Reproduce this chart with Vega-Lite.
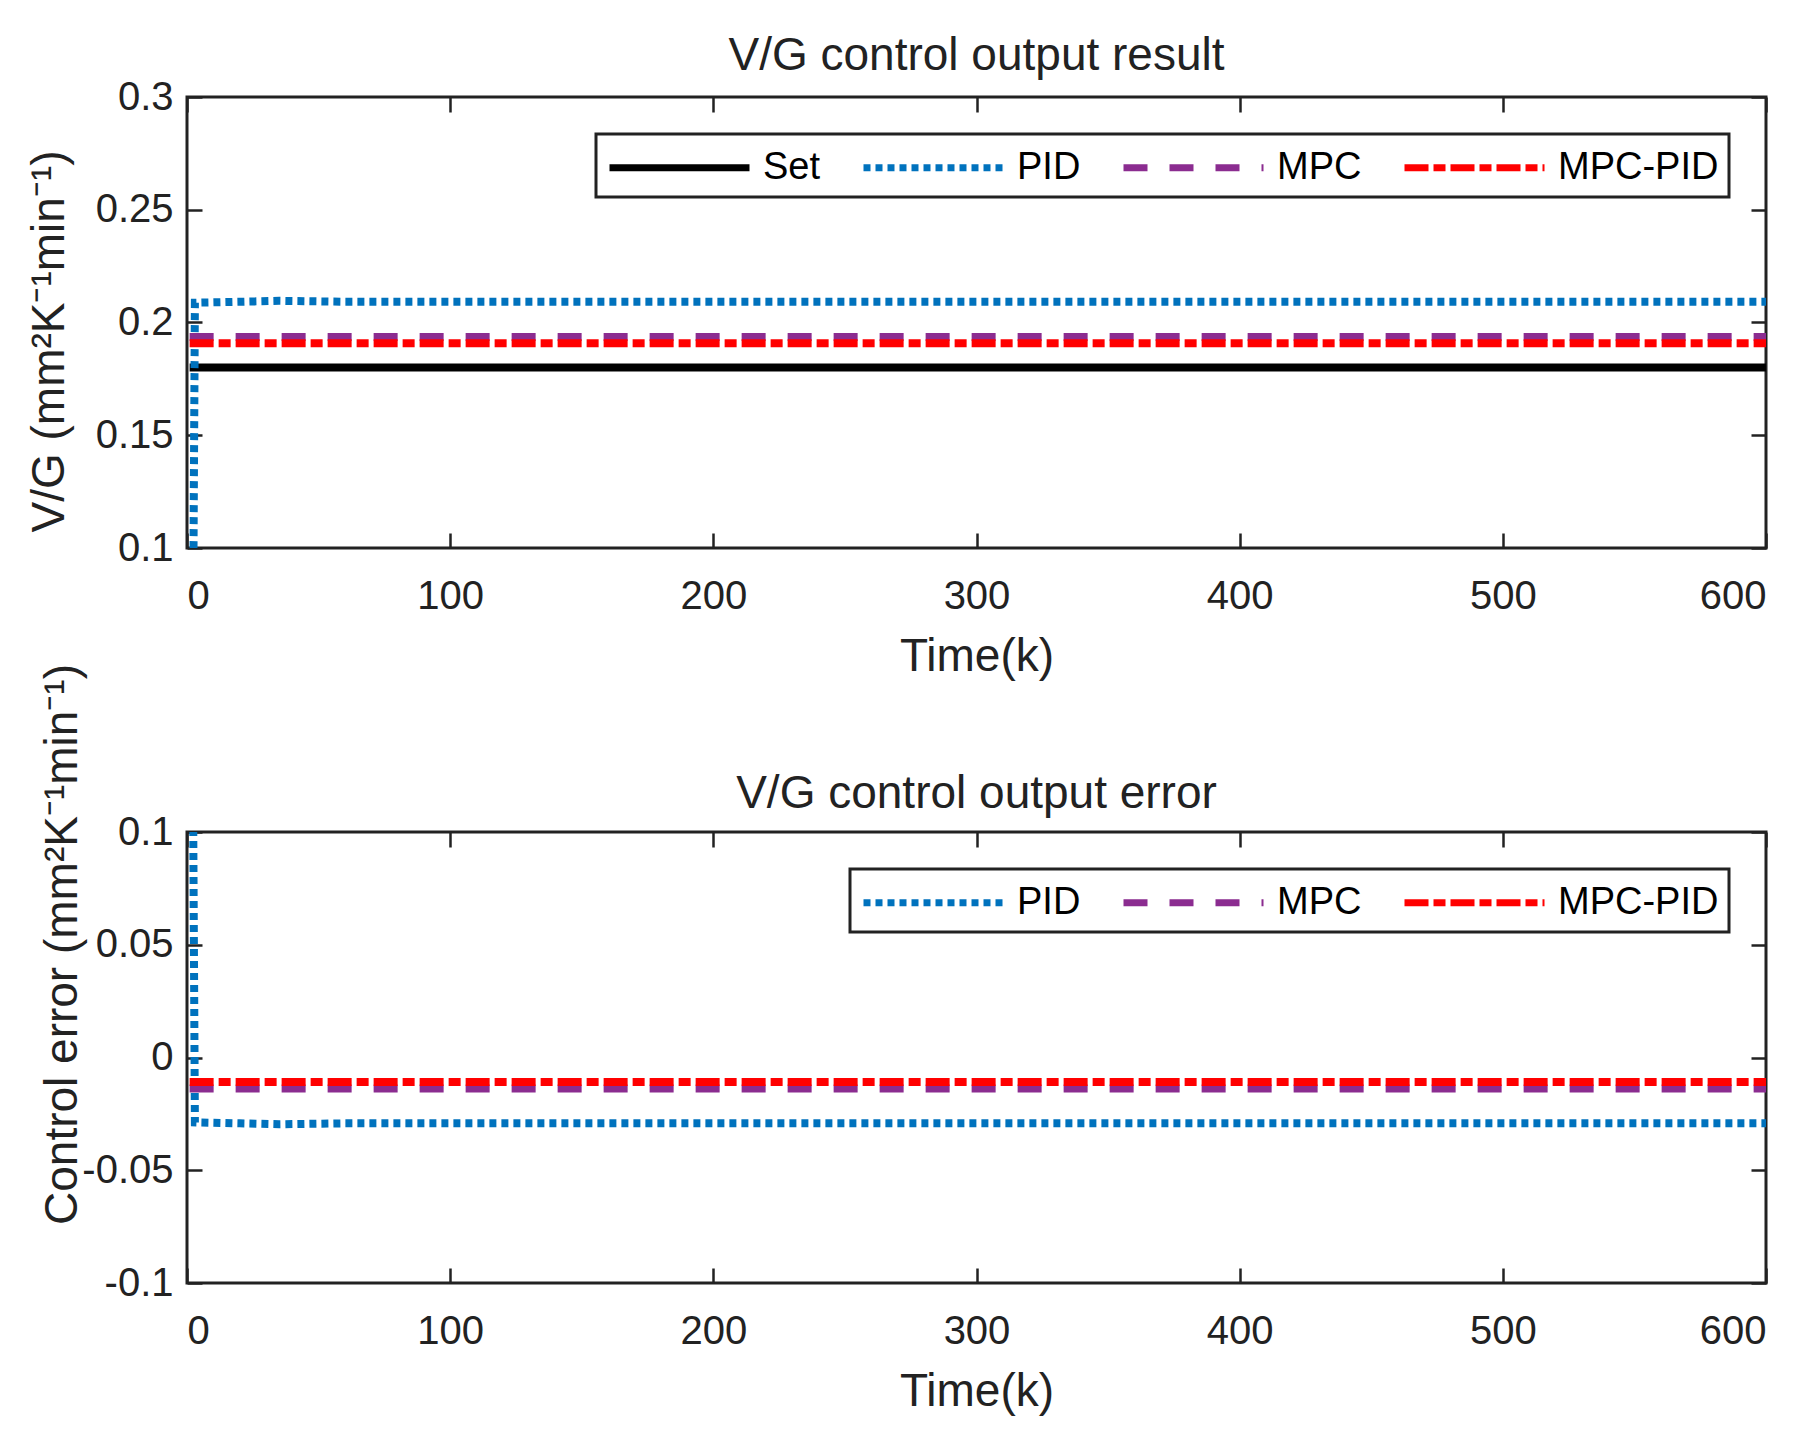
{
  "$schema": "https://vega.github.io/schema/vega-lite/v6.json",
  "background": "white",
  "padding": {"left": 24, "top": 31, "right": 10, "bottom": 10},
  "config": {
    "font": "Liberation Sans",
    "view": {"stroke": "#222", "strokeWidth": 3},
    "axis": {
      "domain": false,
      "grid": false,
      "tickColor": "#222",
      "tickWidth": 2.5,
      "tickSize": -15,
      "labelFont": "Liberation Sans",
      "labelFontSize": 40,
      "labelColor": "#222",
      "titleFont": "Liberation Sans",
      "titleFontSize": 46,
      "titleFontWeight": "normal",
      "titleColor": "#222"
    },
    "title": {"font": "Liberation Sans", "fontSize": 46, "fontWeight": "normal", "color": "#222", "offset": -3, "frame": "group"},
    "legend": {
      "orient": "top-right",
      "direction": "horizontal",
      "columns": 4,
      "offset": 37,
      "strokeColor": "#222",
      "strokeWidth": 3,
      "fillColor": "white",
      "padding": 10,
      "symbolType": "M-1,0H6",
      "symbolSize": 1600,
      "symbolStrokeWidth": 7,
      "labelOffset": 110,
      "labelFont": "Liberation Sans",
      "labelFontSize": 38,
      "labelColor": "#000",
      "labelLimit": 400,
      "columnPadding": 28,
      "title": null
    }
  },
  "datasets": {
    "top": [
      {"k": 1, "value": 0.18, "series": "Set"},
      {"k": 600, "value": 0.18, "series": "Set"},
      {"k": 1, "value": 0.0, "series": "PID"},
      {"k": 2, "value": 0.0, "series": "PID"},
      {"k": 3, "value": 0.2088, "series": "PID"},
      {"k": 20, "value": 0.2092, "series": "PID"},
      {"k": 35, "value": 0.2096, "series": "PID"},
      {"k": 60, "value": 0.2092, "series": "PID"},
      {"k": 600, "value": 0.2092, "series": "PID"},
      {"k": 1, "value": 0.1936, "series": "MPC"},
      {"k": 600, "value": 0.1936, "series": "MPC"},
      {"k": 1, "value": 0.1908, "series": "MPC-PID"},
      {"k": 600, "value": 0.1908, "series": "MPC-PID"}
    ],
    "bottom": [
      {"k": 1, "value": 0.18, "series": "PID"},
      {"k": 2, "value": 0.18, "series": "PID"},
      {"k": 3, "value": -0.0288, "series": "PID"},
      {"k": 20, "value": -0.0292, "series": "PID"},
      {"k": 35, "value": -0.0296, "series": "PID"},
      {"k": 60, "value": -0.0292, "series": "PID"},
      {"k": 600, "value": -0.0292, "series": "PID"},
      {"k": 1, "value": -0.0137, "series": "MPC"},
      {"k": 600, "value": -0.0137, "series": "MPC"},
      {"k": 1, "value": -0.0109, "series": "MPC-PID"},
      {"k": 600, "value": -0.0109, "series": "MPC-PID"}
    ]
  },
  "bounds": "flush",
  "spacing": 284,
  "resolve": {"scale": {"color": "independent", "strokeDash": "independent", "x": "independent", "y": "independent"}},
  "vconcat": [
    {
      "width": 1579,
      "height": 451,
      "title": "V/G control output result",
      "data": {"name": "top"},
      "layer": [
        {
          "mark": {"type": "line", "clip": true, "strokeWidth": 8},
          "encoding": {
            "x": {"field": "k", "type": "quantitative", "scale": {"domain": [0, 600], "nice": false},
                  "axis": {"orient": "bottom", "values": [0, 100, 200, 300, 400, 500, 600], "title": "Time(k)", "labelPadding": 43, "titlePadding": 18}},
            "y": {"field": "value", "type": "quantitative", "scale": {"domain": [0.1, 0.3], "nice": false, "zero": false},
                  "axis": {"orient": "left", "values": [0.1, 0.15, 0.2, 0.25, 0.3], "labelExpr": "'' + datum.value", "labelPadding": 29,
                           "title": "V/G (mm²K⁻¹min⁻¹)", "titlePadding": 22, "titleY": 244, "titleAlign": "center"}},
            "color": {"field": "series", "type": "nominal",
                      "scale": {"domain": ["Set", "PID", "MPC", "MPC-PID"], "range": ["#000000", "#0072BD", "#8B2C90", "#FF0000"]},
                      "legend": {"offset": 37}},
            "strokeDash": {"field": "series", "type": "nominal",
                      "scale": {"domain": ["Set", "PID", "MPC", "MPC-PID"], "range": [[1, 0], [7, 5], [24, 22], [24, 5, 12, 5]]},
                      "legend": {"offset": 37}}
          }
        },
        {
          "mark": {"type": "rule", "opacity": 0},
          "encoding": {
            "x": {"field": "k", "type": "quantitative", "axis": {"orient": "top", "values": [0, 100, 200, 300, 400, 500, 600], "labels": false, "title": null}},
            "y": {"field": "value", "type": "quantitative", "axis": {"orient": "right", "values": [0.1, 0.15, 0.2, 0.25, 0.3], "labels": false, "title": null}}
          }
        }
      ],
      "resolve": {"axis": {"x": "independent", "y": "independent"}}
    },
    {
      "width": 1579,
      "height": 451,
      "title": {"text": "V/G control output error", "dy": 163},
      "data": {"name": "bottom"},
      "layer": [
        {
          "mark": {"type": "line", "clip": true, "strokeWidth": 8},
          "encoding": {
            "x": {"field": "k", "type": "quantitative", "scale": {"domain": [0, 600], "nice": false},
                  "axis": {"orient": "bottom", "values": [0, 100, 200, 300, 400, 500, 600], "title": "Time(k)", "labelPadding": 43, "titlePadding": 18}},
            "y": {"field": "value", "type": "quantitative", "scale": {"domain": [-0.1, 0.1], "nice": false, "zero": false},
                  "axis": {"orient": "left", "values": [-0.1, -0.05, 0, 0.05, 0.1], "labelExpr": "'' + datum.value", "labelPadding": 29,
                           "title": "Control error (mm²K⁻¹min⁻¹)", "titlePadding": -5, "titleY": 112, "titleAlign": "center"}},
            "color": {"field": "series", "type": "nominal",
                      "scale": {"domain": ["PID", "MPC", "MPC-PID"], "range": ["#0072BD", "#8B2C90", "#FF0000"]},
                      "legend": {"offset": 37, "columns": 3}},
            "strokeDash": {"field": "series", "type": "nominal",
                      "scale": {"domain": ["PID", "MPC", "MPC-PID"], "range": [[7, 5], [24, 22], [24, 5, 12, 5]]},
                      "legend": {"offset": 37, "columns": 3}}
          }
        },
        {
          "mark": {"type": "rule", "opacity": 0},
          "encoding": {
            "x": {"field": "k", "type": "quantitative", "axis": {"orient": "top", "values": [0, 100, 200, 300, 400, 500, 600], "labels": false, "title": null}},
            "y": {"field": "value", "type": "quantitative", "axis": {"orient": "right", "values": [-0.1, -0.05, 0, 0.05, 0.1], "labels": false, "title": null}}
          }
        }
      ],
      "resolve": {"axis": {"x": "independent", "y": "independent"}}
    }
  ]
}
